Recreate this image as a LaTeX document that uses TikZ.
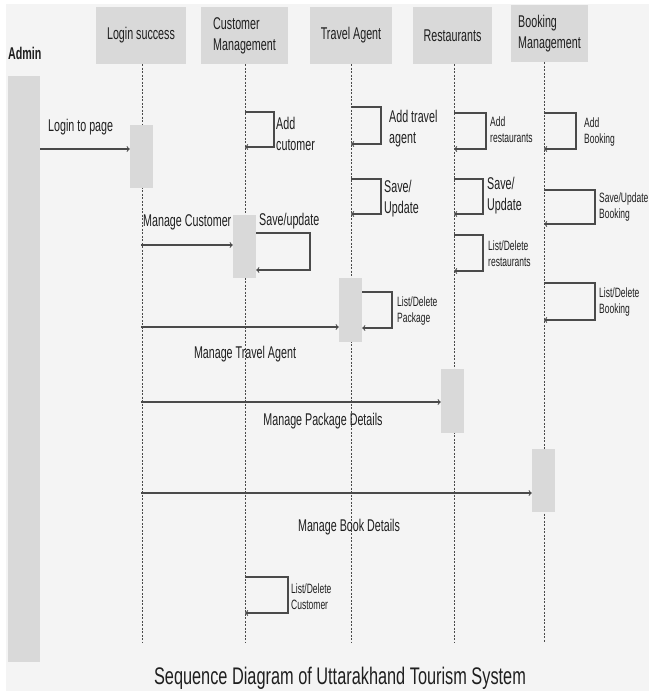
\documentclass[tikz,border=0pt]{standalone}
\usepackage{fontspec}
\setmainfont{Liberation Sans}
\usepackage{xcolor}
\usepackage{graphicx}
\usepackage{tikz}

\definecolor{bggray}{HTML}{F4F4F4}
\definecolor{boxgray}{HTML}{D9D9D9}
\definecolor{linegray}{HTML}{4A4A4A}
\definecolor{txtgray}{HTML}{1F1F1F}
\newcommand{\nar}[1]{\scalebox{0.63}[1]{#1}}
\newcommand{\medf}{\fontsize{17}{21}\selectfont}
\newcommand{\smallf}{\fontsize{13.5}{16}\selectfont}

\begin{document}
\begin{tikzpicture}[x=1pt,y=-1pt,
  head/.style={fill=boxgray, minimum height=57pt, inner sep=0pt, font=\medf, text=txtgray},
  actbox/.style={fill=boxgray, minimum width=23pt, inner sep=0pt},
  lifeline/.style={dash pattern=on 2pt off 1.5pt, line width=0.6pt, linegray},
  msg/.style={->, line width=1.1pt, linegray},
  lbl/.style={font=\medf, text=txtgray, inner sep=0pt, align=left, anchor=west},
  slbl/.style={font=\smallf, text=txtgray, inner sep=0pt, align=left, anchor=west},
  mlbl/.style={font=\medf, text=txtgray, inner sep=0pt}]

  % Page
  \useasboundingbox (0,0) rectangle (649,691);
  \fill[bggray] (6,4) rectangle (649,691);

  % Lifeline heads
  \node[head, minimum width=90pt] (login) at (141,35.5) {\nar{Login success}};
  \node[head, minimum width=87pt, align=left] (cust) at (244.5,35.5) {\nar{Customer}\\\nar{Management}};
  \node[head, minimum width=82pt] (travel) at (351,35.5) {\nar{Travel Agent}};
  \node[head, minimum width=79pt] (rest) at (452.5,35.5) {\nar{Restaurants}};
  \node[head, minimum width=77pt, align=left] (book) at (549.5,33.5) {\nar{Booking}\\\nar{Management}};

  % Actor
  \node[font=\medf\bfseries, text=txtgray, anchor=west, inner sep=0pt] (admin) at (8,53) {\nar{Admin}};
  \node[fill=boxgray, minimum width=32pt, minimum height=586pt, inner sep=0pt] (adminbar) at (24,369) {};

  % Lifelines
  \foreach \n/\x in {login/142, cust/245, travel/351, rest/454, book/544}
    \draw[lifeline] (\n.south -| \x,0) -- (\x,643);

  % Activations
  \node[actbox, minimum height=63pt] (act1) at (141.5,156.5) {};
  \node[actbox, minimum height=63pt] (act2) at (244.5,246.5) {};
  \node[actbox, minimum height=64pt] (act3) at (350.5,310) {};
  \node[actbox, minimum height=64pt] (act4) at (452.5,401) {};
  \node[actbox, minimum height=63pt] (act5) at (543.5,480.5) {};

  % Messages from Admin
  \draw[msg] (adminbar.east |- 0,149) -- (act1.west |- 0,149);
  \node[lbl] (loginlbl) at (48,127) {\nar{Login to page}};
  \draw[msg] (login.south |- 0,245) -- (act2.west |- 0,245);
  \node[lbl] (mcustlbl) at (143,222) {\nar{Manage Customer}};
  \draw[msg] (login.south |- 0,327) -- (act3.west |- 0,327);
  \node[mlbl] (mtravlbl) at (245,354) {\nar{Manage Travel Agent}};
  \draw[msg] (login.south |- 0,402) -- (act4.west |- 0,402);
  \node[mlbl] (mpacklbl) at (323,421) {\nar{Manage Package Details}};
  \draw[msg] (login.south |- 0,493) -- (act5.west |- 0,493);
  \node[mlbl] (mbooklbl) at (349,527) {\nar{Manage Book Details}};

  % Customer Management
  \draw[msg] (245,112) -| (274,147) -- (245,147);
  \node[lbl] (addcust) at (276,133.5) {\nar{Add}\\\nar{cutomer}};
  \draw[msg] (act2.east |- 0,233) -| (310,270) -- (act2.east |- 0,270);
  \node[lbl] (savecust) at (259,221) {\nar{Save/update}};
  \draw[msg] (245,577) -| (288,613) -- (245,613);
  \node[slbl] (listcust) at (291,597) {\nar{List/Delete}\\\nar{Customer}};

  % Travel Agent
  \draw[msg] (351,107) -| (381,144) -- (351,144);
  \node[lbl] (addtrav) at (389,128.5) {\nar{Add travel}\\\nar{agent}};
  \draw[msg] (351,179) -| (381,214) -- (351,214);
  \node[lbl] (savetrav) at (384,198.5) {\nar{Save/}\\\nar{Update}};
  \draw[msg] (act3.east |- 0,292) -| (392,328) -- (act3.east |- 0,328);
  \node[slbl] (listpack) at (397,311) {\nar{List/Delete}\\\nar{Package}};

  % Restaurants
  \draw[msg] (454,113) -| (486,149) -- (454,149);
  \node[slbl] (addrest) at (490,130) {\nar{Add}\\\nar{restaurants}};
  \draw[msg] (454,179) -| (483,214) -- (454,214);
  \node[lbl] (saverest) at (487,196) {\nar{Save/}\\\nar{Update}};
  \draw[msg] (454,235) -| (483,271) -- (454,271);
  \node[slbl] (listrest) at (488,254) {\nar{List/Delete}\\\nar{restaurants}};

  % Booking Management
  \draw[msg] (544,113) -| (576,149) -- (544,149);
  \node[slbl] (addbook) at (584,132) {\nar{Add}\\\nar{Booking}};
  \draw[msg] (544,190) -| (595,224) -- (544,224);
  \node[slbl] (savebook) at (599,207) {\nar{Save/Update}\\\nar{Booking}};
  \draw[msg] (544,283) -| (595,320) -- (544,320);
  \node[slbl] (listbook) at (599,302) {\nar{List/Delete}\\\nar{Booking}};

  % Caption
  \node[font=\fontsize{24}{28}\selectfont, text=txtgray] (title) at (340,678) {\scalebox{0.68}[1]{Sequence Diagram of Uttarakhand Tourism System}};

\end{tikzpicture}
\end{document}
